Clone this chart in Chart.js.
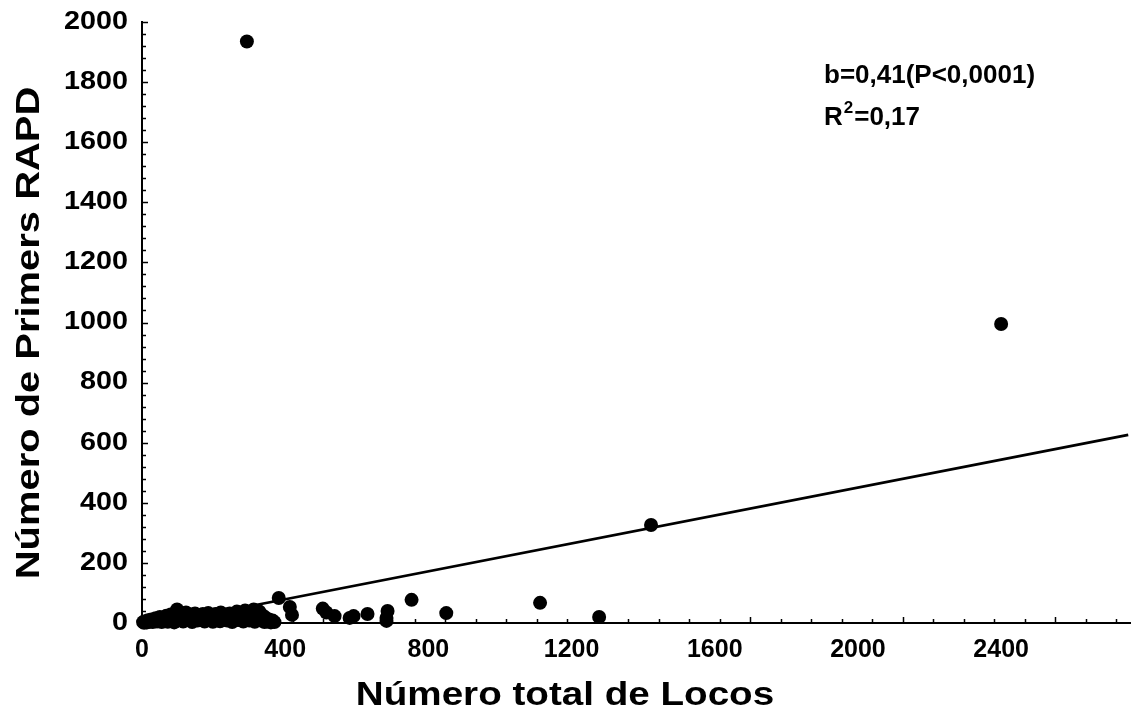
<!DOCTYPE html>
<html>
<head>
<meta charset="utf-8">
<script src="https://cdn.jsdelivr.net/npm/chart.js@4/dist/chart.umd.min.js"></script>
<style>
  html, body { margin: 0; padding: 0; background: #fff; }
  #wrap { width: 1137px; height: 720px; }
</style>
</head>
<body>
<div id="wrap"><canvas id="c" width="1137" height="720"></canvas></div>
<script>
// Data: total number of loci (x) vs number of RAPD primers (y)
const lociX = [3, 6, 9, 14, 17, 21, 26, 30, 35, 38, 42, 48, 50, 55, 60, 65, 68, 72, 78, 80,
  85, 90, 92, 98, 102, 108, 115, 120, 123, 128, 135, 140, 143, 148, 155, 160, 163, 170, 175, 178,
  185, 190, 193, 198, 205, 208, 212, 218, 220, 228, 235, 238, 245, 250, 252, 258, 265, 268, 272, 280,
  283, 288, 292, 295, 300, 303, 308, 312, 315, 320, 325, 328, 333, 337, 342, 345, 350, 355, 360, 365, 370,
  293, 382, 413, 419, 505, 515, 538, 580, 591, 630, 686, 683, 683, 753, 850, 1112, 1277, 1422, 2400];
const primersY = [3, 1, 6, 2, 9, 4, 12, 3, 8, 16, 5, 12, 20, 3, 15, 8, 24, 4, 18, 28,
  10, 2, 22, 45, 12, 30, 5, 22, 35, 10, 28, 3, 18, 32, 8, 26, 15, 30, 5, 20,
  33, 12, 25, 4, 30, 15, 22, 6, 35, 18, 28, 8, 32, 15, 3, 25, 38, 10, 20, 30,
  5, 42, 15, 28, 8, 35, 20, 45, 4, 30, 15, 38, 8, 25, 3, 18, 5, 12, 2, 8, 3,
  1935, 83, 53, 27, 48, 35, 23, 17, 23, 30, 40, 17, 7, 77, 33, 67, 20, 326, 995];
// Fitted regression line (end points as drawn)
const fitX = [60, 2755];
const fitY = [0, 626];
// Axis ticks
const xTickLabels = [0, 400, 800, 1200, 1600, 2000, 2400];
const xMax = 2760;
const yTickLabels = [0, 200, 400, 600, 800, 1000, 1200, 1400, 1600, 1800, 2000];
const yMax = 2000;
const xTitle = 'Número total de Locos';
const yTitle = 'Número de Primers RAPD';
const statLine1 = 'b=0,41(P<0,0001)';
const statR = 'R', statSup = '2', statRest = '=0,17';

const pts = lociX.map((x, i) => ({ x: x, y: primersY[i] }));
const fit = fitX.map((x, i) => ({ x: x, y: fitY[i] }));
const FONT = "'Liberation Sans', Arial, sans-serif";

function wideText(ctx, text, x, y, sx, align) {
  ctx.save();
  ctx.translate(x, y);
  ctx.scale(sx, 1);
  ctx.textAlign = align;
  ctx.fillText(text, 0, 0);
  ctx.restore();
}

const decor = {
  id: 'decor',
  afterDraw(chart) {
    const { ctx, chartArea: a, scales: { x, y } } = chart;
    ctx.save();
    ctx.strokeStyle = '#000';
    ctx.lineWidth = 1.5;
    // small inward tick marks along the x axis (as in the original, not aligned with the labels)
    for (let k = 1; ; k++) {
      const v = -5 + k * 85.2;
      if (v > xMax) break;
      const px = Math.round(x.getPixelForValue(v)) + 0.5;
      const len = k % 5 === 0 ? 6 : 4;
      ctx.beginPath(); ctx.moveTo(px, a.bottom); ctx.lineTo(px, a.bottom - len); ctx.stroke();
    }
    for (let v = 0; v <= yMax; v += 40) {
      const py = Math.round(y.getPixelForValue(v)) + 0.5;
      const len = v % 200 === 0 ? 6 : 4;
      ctx.beginPath(); ctx.moveTo(a.left, py); ctx.lineTo(a.left + len, py); ctx.stroke();
    }
    ctx.fillStyle = '#000';
    // y tick labels (wide bold digits as in the original)
    ctx.textBaseline = 'middle';
    ctx.font = "bold 25px " + FONT;
    yTickLabels.forEach(v => wideText(ctx, String(v), a.left - 14, y.getPixelForValue(v), 1.15, 'right'));
    // axis titles
    ctx.font = "bold 33px " + FONT;
    wideText(ctx, xTitle, a.left + 423, 696, 1.17, 'center');
    ctx.save();
    ctx.translate(30, a.top + 311);
    ctx.rotate(-Math.PI / 2);
    wideText(ctx, yTitle, 0, 0, 1.21, 'center');
    ctx.restore();
    // statistics text
    ctx.textBaseline = 'alphabetic';
    ctx.textAlign = 'left';
    ctx.font = "bold 26px " + FONT;
    const tx = a.left + 682;
    ctx.fillText(statLine1, tx, a.top + 61);
    ctx.fillText(statR, tx, a.top + 103);
    const rw = ctx.measureText(statR).width;
    ctx.font = "bold 17px " + FONT;
    ctx.fillText(statSup, tx + rw + 1, a.top + 91);
    const sw = ctx.measureText(statSup).width;
    ctx.font = "bold 26px " + FONT;
    ctx.fillText(statRest, tx + rw + sw + 2, a.top + 103);
    ctx.restore();
  }
};

new Chart(document.getElementById('c'), {
  type: 'scatter',
  data: {
    datasets: [
      { data: pts, backgroundColor: '#000', borderColor: '#000', pointRadius: 7, borderWidth: 0, pointHoverRadius: 7, order: 2 },
      { type: 'line', data: fit, borderColor: '#000', borderWidth: 2.8, pointRadius: 0, showLine: true, fill: false, order: 1 }
    ]
  },
  options: {
    responsive: false,
    animation: false,
    events: [],
    clip: false,
    layout: { padding: { left: 0, top: 22, right: 4, bottom: 0 } },
    plugins: { legend: { display: false }, tooltip: { enabled: false } },
    scales: {
      x: {
        type: 'linear', min: 0, max: xMax,
        afterFit(s) { s.height = 97; },
        afterBuildTicks(s) { s.ticks = xTickLabels.map(v => ({ value: v })); },
        grid: { display: false, drawTicks: false },
        border: { display: true, color: '#000', width: 2 },
        ticks: {
          padding: 12, color: '#000', maxRotation: 0, autoSkip: false,
          font: { family: FONT, weight: 'bold', size: 25 },
          callback: v => String(v)
        }
      },
      y: {
        type: 'linear', min: 0, max: yMax,
        afterFit(s) { s.width = 142; },
        afterBuildTicks(s) { s.ticks = yTickLabels.map(v => ({ value: v })); },
        grid: { display: false, drawTicks: false },
        border: { display: true, color: '#000', width: 2 },
        ticks: { display: false }
      }
    }
  },
  plugins: [decor]
});
</script>
</body>
</html>
